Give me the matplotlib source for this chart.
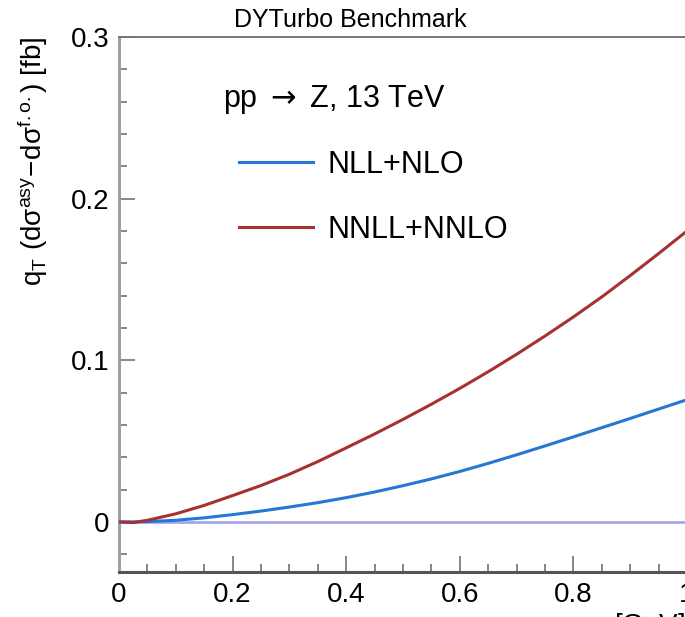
import matplotlib
import numpy as np

matplotlib.use('Agg')
from matplotlib import pyplot as plt

plt.rcParams['font.family'] = ['Liberation Sans', 'DejaVu Sans']
plt.rcParams['mathtext.fontset'] = 'custom'
plt.rcParams['mathtext.rm'] = 'Liberation Sans'
plt.rcParams['mathtext.it'] = 'Liberation Sans:italic'
plt.rcParams['mathtext.sf'] = 'DejaVu Sans'

# q_T grid [GeV] and q_T*(dsigma_asy - dsigma_fo) [fb]
qt = [0.0, 0.025, 0.05, 0.1, 0.15, 0.2, 0.25, 0.3, 0.35, 0.4, 0.45, 0.5,
      0.55, 0.6, 0.65, 0.7, 0.75, 0.8, 0.85, 0.9, 0.95, 1.0]
nll_nlo = [0.0, 0.0, 0.0002, 0.001, 0.0025, 0.0045, 0.0067, 0.0092, 0.0119,
           0.015, 0.0185, 0.0224, 0.0266, 0.0312, 0.0362, 0.0415, 0.047,
           0.0526, 0.0583, 0.064, 0.0698, 0.0756]
nnll_nnlo = [0.0, -0.0004, 0.001, 0.005, 0.0102, 0.0163, 0.0225, 0.0295,
             0.0373, 0.0458, 0.0544, 0.0634, 0.0728, 0.0826, 0.0929, 0.1037,
             0.115, 0.1268, 0.1392, 0.1524, 0.166, 0.180]

fig = plt.figure(figsize=(6.85, 6.17), dpi=100)
ax = fig.add_axes([119 / 685, 1 - 572 / 617, 568 / 685, 535 / 617])

ax.axhline(0, color='#a3a3e6', linewidth=1.9, zorder=1)
ax.plot(qt, nll_nlo, color='#2477d4', linewidth=2.2, label='NLL+NLO', zorder=3)
ax.plot(qt, nnll_nnlo, color='#a83030', linewidth=2.2, label='NNLL+NNLO', zorder=3)

ax.set_xlim(0, 1.0)
ax.set_ylim(-0.031, 0.3)
ax.set_xticks([0, 0.2, 0.4, 0.6, 0.8, 1.0])
ax.set_xticklabels(['0', '0.2', '0.4', '0.6', '0.8', '1'])
ax.set_xticks(np.arange(0, 1.001, 0.05), minor=True)
ax.set_yticks([0, 0.1, 0.2, 0.3])
ax.set_yticklabels(['0', '0.1', '0.2', '0.3'])
ax.set_yticks(np.arange(-0.02, 0.301, 0.02), minor=True)
ax.tick_params(which='both', direction='in', labelsize=20, color='#666666',
               width=1.1, top=False, right=False)
ax.tick_params(which='major', length=11.5, pad=7)
ax.tick_params(which='minor', length=5.8)

ax.spines['right'].set_visible(False)
ax.spines['left'].set_color('#a0a0a0')
ax.spines['left'].set_linewidth(2.2)
ax.spines['bottom'].set_color('#555555')
ax.spines['bottom'].set_linewidth(2.2)
ax.spines['top'].set_color('#777777')
ax.spines['top'].set_linewidth(1.4)

ax.set_ylabel(r'$\mathregular{q_{T}\ (d\sigma^{asy}\!-\!d\sigma^{f.o.})\ [fb]}$',
              fontsize=20, loc='top')
ax.yaxis.set_label_coords(-0.121, 1.0)

fig.text(685 / 685, 1 - 611 / 617, r'$\mathregular{q_{T}}$ [GeV]', fontsize=20,
         ha='right', va='top')
fig.text(350 / 685, 1 - 20 / 617, 'DYTurbo Benchmark', fontsize=18,
         ha='center', va='center')
fig.text(223 / 685, 1 - 107 / 617, r'pp $\mathsf{\rightarrow}$ Z, 13 TeV', fontsize=22,
         ha='left', va='baseline')

ax.legend(loc='upper left', bbox_to_anchor=(239 / 685, 1 - 150 / 617),
          bbox_transform=fig.transFigure, frameon=False, fontsize=22,
          handlelength=2.42, handletextpad=0.49, labelspacing=1.15,
          borderpad=0, borderaxespad=0)

fig.savefig('out.png', dpi=100)
